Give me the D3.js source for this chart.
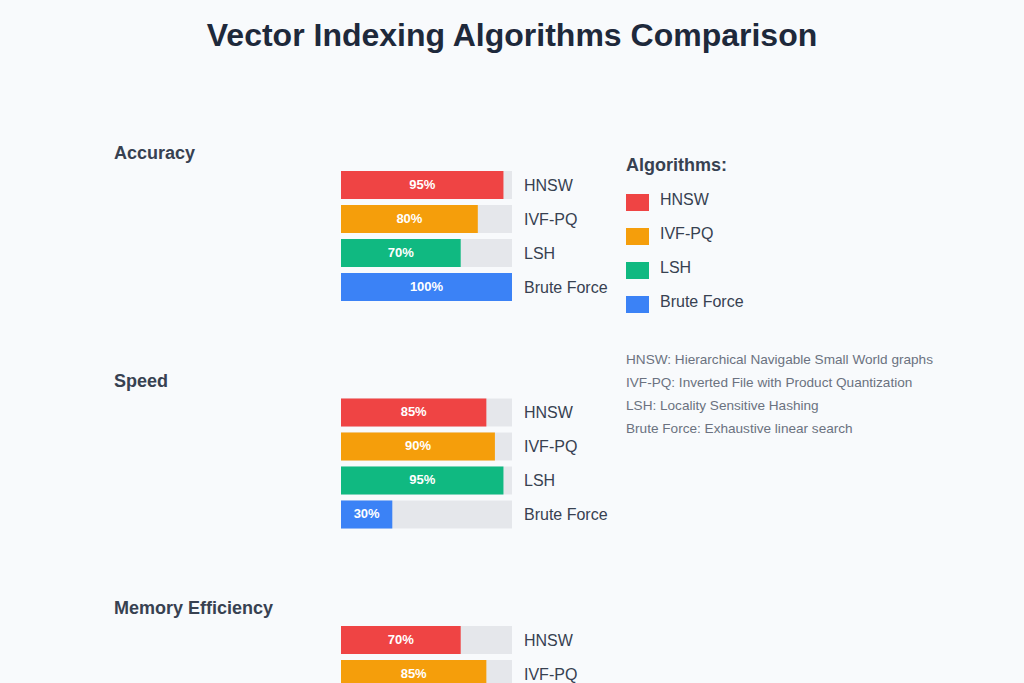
<!DOCTYPE html>
<html>
<head>
<meta charset="utf-8">
<script src="https://cdn.jsdelivr.net/npm/d3@7"></script>
<style>
  html, body { margin: 0; padding: 0; background: #f8fafc; overflow: hidden; }
  svg { display: block; font-family: Arial, "Liberation Sans", sans-serif; }
</style>
</head>
<body>
<div id="chart"></div>
<script>
// data
var algorithms = ["HNSW", "IVF-PQ", "LSH", "Brute Force"];
var metrics = ["Accuracy", "Speed", "Memory Efficiency"];
var accuracy = [95, 80, 70, 100];
var speed = [85, 90, 95, 30];
var memory = [70, 85, 80, 100]; // last two are below the visible area
var colors = ["#ef4444", "#f59e0b", "#10b981", "#3b82f6"];
var descriptions = [
  "HNSW: Hierarchical Navigable Small World graphs",
  "IVF-PQ: Inverted File with Product Quantization",
  "LSH: Locality Sensitive Hashing",
  "Brute Force: Exhaustive linear search"
];
var seriesByMetric = [accuracy, speed, memory];

var width = 1024, height = 683;
var svg = d3.select("#chart").append("svg").attr("width", width).attr("height", height);

// title
svg.append("text")
  .attr("x", width / 2).attr("y", 46)
  .attr("text-anchor", "middle")
  .attr("font-size", 32).attr("font-weight", "bold")
  .attr("fill", "#1e293b")
  .text("Vector Indexing Algorithms Comparison");

var x = d3.scaleLinear().domain([0, 100]).range([0, 171]);
var y = d3.scaleBand().domain(algorithms).range([0, 130]).paddingInner(6 / 34).paddingOuter(0);
var groupY = d3.scaleLinear().domain([0, 1]).range([171, 398.5]);
var color = d3.scaleOrdinal().domain(algorithms).range(colors);

metrics.forEach(function(m, gi) {
  var top = groupY(gi);
  var g = svg.append("g");
  g.append("text")
    .attr("x", 114).attr("y", top - 12)
    .attr("font-size", 18).attr("font-weight", "bold")
    .attr("fill", "#374151")
    .text(m);

  var rows = g.selectAll("g.row").data(algorithms).enter().append("g")
    .attr("class", "row")
    .attr("transform", function(d) { return "translate(341," + (top + y(d)) + ")"; });

  //背景軌道
  rows.append("rect")
    .attr("width", x(100)).attr("height", y.bandwidth())
    .attr("fill", "#e5e7eb");
  rows.append("rect")
    .attr("width", function(d, i) { return x(seriesByMetric[gi][i]); })
    .attr("height", y.bandwidth())
    .attr("fill", function(d) { return color(d); });
  rows.append("text")
    .attr("x", function(d, i) { return x(seriesByMetric[gi][i]) / 2; })
    .attr("y", y.bandwidth() / 2 - 1).attr("dy", "0.35em")
    .attr("text-anchor", "middle")
    .attr("font-size", 13).attr("font-weight", "bold")
    .attr("fill", "#ffffff")
    .text(function(d, i) { return seriesByMetric[gi][i] + "%"; });
  rows.append("text")
    .attr("x", x(100) + 12)
    .attr("y", y.bandwidth() / 2).attr("dy", "0.35em")
    .attr("font-size", 16)
    .attr("fill", "#374151")
    .text(function(d) { return d; });
});

// legend
var legend = svg.append("g").attr("transform", "translate(626,0)");
legend.append("text")
  .attr("x", 0).attr("y", 171)
  .attr("font-size", 18).attr("font-weight", "bold")
  .attr("fill", "#374151")
  .text("Algorithms:");
var items = legend.selectAll("g.item").data(algorithms).enter().append("g")
  .attr("class", "item")
  .attr("transform", function(d, i) { return "translate(0," + (194 + i * 34) + ")"; });
items.append("rect").attr("width", 23).attr("height", 17)
  .attr("fill", function(d) { return color(d); });
items.append("text")
  .attr("x", 34).attr("y", 5).attr("dy", "0.35em")
  .attr("font-size", 16).attr("fill", "#374151")
  .text(function(d) { return d; });

legend.selectAll("text.desc").data(descriptions).enter().append("text")
  .attr("class", "desc")
  .attr("x", 0).attr("y", function(d, i) { return 364 + i * 23; })
  .attr("font-size", 13.6).attr("fill", "#6b7280")
  .text(function(d) { return d; });
</script>
</body>
</html>
